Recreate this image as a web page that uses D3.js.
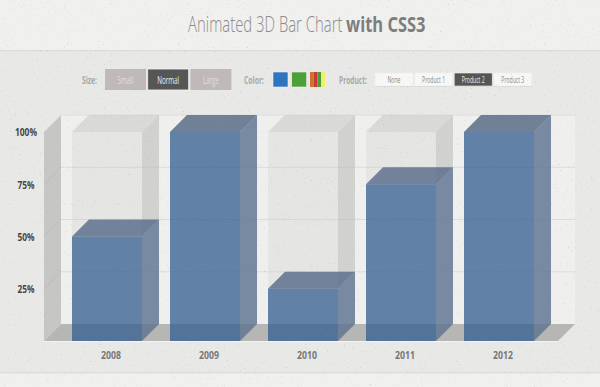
<!DOCTYPE html>
<html>
<head>
<meta charset="utf-8">
<script src="https://cdn.jsdelivr.net/npm/d3@7"></script>
<style>
html, body { margin: 0; padding: 0; background: #e9e9e8; overflow: hidden; }
svg { display: block; font-family: "Open Sans", sans-serif; }
</style>
</head>
<body>
<svg width="600" height="387"></svg>
<script>
var years = ['2008', '2009', '2010', '2011', '2012'];
var values = [50, 100, 25, 75, 100];
var tickValues = [25, 50, 75, 100];
var sizeLabels = ['Small', 'Normal', 'Large'];
var activeSize = 'Normal';
var productLabels = ['None', 'Product 1', 'Product 2', 'Product 3'];
var activeProduct = 'Product 2';
var swatchColors = ['#2f74c0', '#4da035'];
var mixedColors = ['#d2702c', '#c43a35', '#4f9a3f', '#f2ef6a'];

var width = 600;
var height = 387;
var depth = 17;
var svg = d3.select('svg');

var x = d3.scaleBand()
    .domain(years)
    .range([72, 534])
    .paddingInner(28 / 98);
var y = d3.scaleLinear()
    .domain([0, 100])
    .range([341, 132]);
var barW = x.bandwidth();

var poly = pts => pts.map(p => p.join(',')).join(' ');

// the original uses a condensed webfont, so squeeze each text into its measured span
function squeeze(sel, spanW, cx, cy) {
    sel.attr('text-anchor', 'middle')
        .attr('x', 0).attr('y', 0).attr('dy', '.35em')
        .attr('transform', function (d) {
            var w = typeof spanW === 'function' ? spanW(d) : spanW;
            var sx = w / this.getComputedTextLength();
            var px = typeof cx === 'function' ? cx(d) : cx;
            var py = typeof cy === 'function' ? cy(d) : cy;
            return `translate(${px},${py}) scale(${sx},1)`;
        });
    return sel;
}

function fitted(parent, str, x0, x1, yc, size, weight, fill) {
    var t = parent.append('text')
        .attr('font-size', size)
        .attr('font-weight', weight)
        .attr('fill', fill)
        .text(str);
    return squeeze(t, x1 - x0, (x0 + x1) / 2, yc);
}

// page bands
svg.append('rect').attr('width', width).attr('height', 50).attr('fill', '#f0f0ef');
svg.append('rect').attr('y', 50).attr('width', width).attr('height', 1.5).attr('fill', '#dcdcdb');
svg.append('rect').attr('y', 51.5).attr('width', width).attr('height', 322).attr('fill', '#e8e8e7');
svg.append('rect').attr('y', 372).attr('width', width).attr('height', 1.5).attr('fill', '#dcdcdb');
svg.append('rect').attr('y', 373.5).attr('width', width).attr('height', 14).attr('fill', '#f0f0ef');

// title
fitted(svg, 'Animated 3D Bar Chart', 188, 342.5, 24.5, 22, 300, '#8c8c8c');
fitted(svg, 'with CSS3', 346, 425.5, 24.5, 22, 700, '#7d7d7d');

// controls
fitted(svg, 'Size:', 82, 97, 80, 10, 700, '#aaa8a8');
var sizeBtn = svg.append('g').selectAll('g').data(sizeLabels).enter().append('g')
    .attr('transform', (d, i) => `translate(${105 + i * 42.7},69)`);
sizeBtn.append('rect')
    .attr('width', 41).attr('height', 21)
    .attr('fill', d => d === activeSize ? '#555655' : '#bfb9b9')
    .attr('stroke', d => d === activeSize ? '#f4f4f4' : 'none')
    .attr('stroke-width', 0.8);
squeeze(sizeBtn.append('text')
    .attr('font-size', 10)
    .attr('fill', d => d === activeSize ? '#f0f0f0' : '#e4dfdf')
    .text(d => d), d => d === 'Normal' ? 22 : 16, 20.5, 11);

fitted(svg, 'Color:', 244, 264, 80, 10, 700, '#aaa8a8');
svg.append('g').selectAll('rect').data(swatchColors).enter().append('rect')
    .attr('x', (d, i) => 273 + i * 18.7)
    .attr('y', 72).attr('width', 15).attr('height', 15)
    .attr('fill', d => d)
    .attr('stroke', '#f2f2f2').attr('stroke-width', 0.6);
var mixX = d3.scaleBand().domain(d3.range(mixedColors.length)).range([310, 325]);
svg.append('g').selectAll('rect').data(mixedColors).enter().append('rect')
    .attr('x', (d, i) => mixX(i))
    .attr('y', 72).attr('width', mixX.bandwidth()).attr('height', 15)
    .attr('fill', d => d);

fitted(svg, 'Product:', 339, 367, 80, 10, 700, '#aaa8a8');
var prodBtn = svg.append('g').selectAll('g').data(productLabels).enter().append('g')
    .attr('transform', (d, i) => `translate(${375 + i * 39.6},73)`);
prodBtn.append('rect')
    .attr('y', 1).attr('width', 38).attr('height', 13)
    .attr('fill', '#d4d4d3');
prodBtn.append('rect')
    .attr('width', 38).attr('height', 13)
    .attr('fill', d => d === activeProduct ? '#555655' : '#f7f7f6')
    .attr('stroke', d => d === activeProduct ? '#f4f4f4' : '#eeeeed')
    .attr('stroke-width', 0.6);
squeeze(prodBtn.append('text')
    .attr('font-size', 8.5)
    .attr('fill', d => d === activeProduct ? '#eeeeee' : '#8a8a8a')
    .text(d => d), d => d === 'None' ? 13 : 23, 19, 7);

// walls and floor
var base = y(0);
var top100 = y(100);
var left = 44;
var right = 558;
svg.append('rect')
    .attr('x', left + depth).attr('y', top100 - depth)
    .attr('width', right - left).attr('height', base - top100)
    .attr('fill', '#efefee');
svg.append('line')
    .attr('x1', left + depth).attr('x2', right + depth)
    .attr('y1', top100 - depth).attr('y2', top100 - depth)
    .attr('stroke', '#dedede');
svg.append('polygon')
    .attr('points', poly([[left, top100], [left + depth, top100 - depth], [left + depth, base - depth], [left, base]]))
    .attr('fill', '#c6c6c5');
svg.append('polygon')
    .attr('points', poly([[left, base], [left + depth, base - depth], [right + depth, base - depth], [right, base]]))
    .attr('fill', '#b6b6b5');
svg.append('line')
    .attr('x1', left).attr('x2', right)
    .attr('y1', base + 0.5).attr('y2', base + 0.5)
    .attr('stroke', '#f4f4f4');

// grid lines
var grid = svg.append('g').selectAll('g').data(tickValues.filter(d => d < 100)).enter().append('g');
grid.append('line')
    .attr('x1', left + depth).attr('x2', right + depth)
    .attr('y1', d => y(d) - depth).attr('y2', d => y(d) - depth)
    .attr('stroke', '#dcdcdb');
grid.append('line')
    .attr('x1', left).attr('x2', left + depth)
    .attr('y1', d => y(d)).attr('y2', d => y(d) - depth)
    .attr('stroke', '#bdbdbc');

// 3d box outline behind each bar
var ghost = svg.append('g').selectAll('g').data(years).enter().append('g');
ghost.append('rect')
    .attr('x', d => x(d)).attr('y', top100)
    .attr('width', barW).attr('height', base - top100)
    .attr('fill', 'rgba(205,205,203,.3)');
ghost.append('polygon')
    .attr('points', d => poly([[x(d), top100], [x(d) + depth, top100 - depth], [x(d) + barW + depth, top100 - depth], [x(d) + barW, top100]]))
    .attr('fill', 'rgba(190,190,188,.45)');
ghost.append('polygon')
    .attr('points', d => poly([[x(d) + barW, top100], [x(d) + barW + depth, top100 - depth], [x(d) + barW + depth, base - depth], [x(d) + barW, base]]))
    .attr('fill', 'rgba(180,180,178,.5)');

// bars
var bar = svg.append('g').selectAll('g').data(years).enter().append('g');
var val = d => values[years.indexOf(d)];
bar.append('polygon')
    .attr('points', d => poly([[x(d) + barW, y(val(d))], [x(d) + barW + depth, y(val(d)) - depth], [x(d) + barW + depth, base - depth], [x(d) + barW, base]]))
    .attr('fill', 'rgba(70,100,135,.65)');
bar.append('polygon')
    .attr('points', d => poly([[x(d), y(val(d))], [x(d) + depth, y(val(d)) - depth], [x(d) + barW + depth, y(val(d)) - depth], [x(d) + barW, y(val(d))]]))
    .attr('fill', 'rgba(85,105,135,.8)');
bar.append('rect')
    .attr('x', d => x(d)).attr('y', d => y(val(d)))
    .attr('width', barW).attr('height', d => base - y(val(d)))
    .attr('fill', 'rgba(21,71,132,.63)');

// axes
var yAxis = svg.append('g')
    .call(d3.axisLeft(y).tickValues(tickValues).tickFormat(d => d + '%').tickSize(0).tickPadding(0));
yAxis.select('.domain').remove();
yAxis.selectAll('.tick').attr('transform', null);
squeeze(yAxis.selectAll('text')
    .attr('font-family', '"Open Sans", sans-serif')
    .attr('font-size', 11)
    .attr('font-weight', 700)
    .attr('fill', '#444'), d => d === 100 ? 22 : 17, 26, d => y(d) + 0.5);

var xAxis = svg.append('g')
    .call(d3.axisBottom(x).tickSize(0).tickPadding(0));
xAxis.select('.domain').remove();
xAxis.selectAll('.tick').attr('transform', null);
squeeze(xAxis.selectAll('text')
    .attr('font-family', '"Open Sans", sans-serif')
    .attr('font-size', 11)
    .attr('font-weight', 700)
    .attr('fill', '#777'), 20, d => x(d) + barW / 2 + 4, base + 14);

// paper speckle over everything
var defs = svg.append('defs');
var f = defs.append('filter').attr('id', 'speckle')
    .attr('x', 0).attr('y', 0).attr('width', '100%').attr('height', '100%');
f.append('feTurbulence')
    .attr('type', 'fractalNoise').attr('baseFrequency', 0.7)
    .attr('numOctaves', 2).attr('seed', 7);
f.append('feColorMatrix').attr('type', 'matrix')
    .attr('values', '0 0 0 0 0.3  0 0 0 0 0.3  0 0 0 0 0.3  5 0 0 0 -3.45');
svg.append('rect')
    .attr('width', width).attr('height', height)
    .attr('filter', 'url(#speckle)')
    .attr('opacity', 0.35)
    .style('pointer-events', 'none');
</script>
</body>
</html>
